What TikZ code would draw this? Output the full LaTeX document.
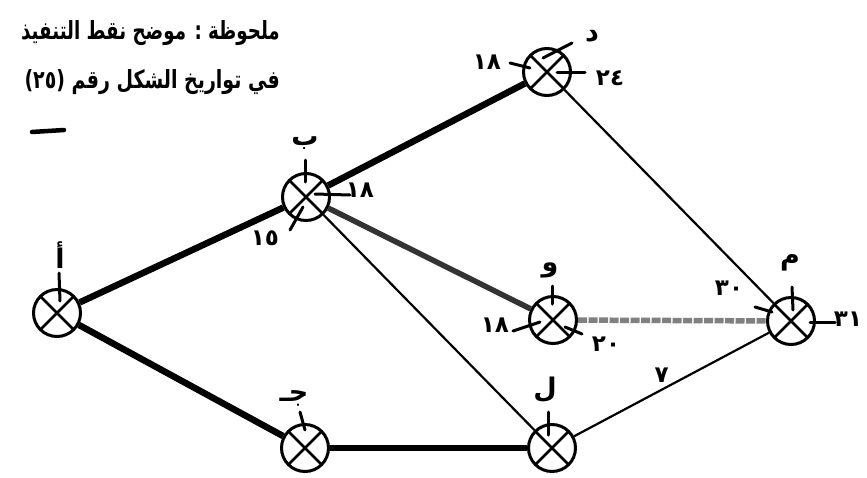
\documentclass[tikz,border=0pt]{standalone}
\usepackage{fontspec}
\newfontfamily\arabicfont[Script=Arabic]{DejaVu Sans}
\TeXXeTstate=1
\begin{document}
\begin{tikzpicture}[x=1pt,y=-1pt,
  event/.style={circle,draw=black,line width=3pt,minimum size=47pt,inner sep=0pt,
    path picture={\draw[line width=2.6pt]
      (path picture bounding box.north west) -- (path picture bounding box.south east)
      (path picture bounding box.north east) -- (path picture bounding box.south west);}},
  heavy/.style={line width=6.5pt},
  graycrit/.style={line width=5.5pt,black!80},
  hatched/.style={line width=5.5pt,black!50,dash pattern=on 9pt off 1.5pt},
  light/.style={line width=2.2pt},
  tick/.style={line width=3pt,line cap=round},
  num/.style={font=\arabicfont\bfseries\fontsize{23}{25}\selectfont,inner sep=0pt},
  letter/.style={font=\arabicfont\bfseries\fontsize{27}{29}\selectfont,inner sep=0pt},
  note/.style={font=\arabicfont\bfseries\fontsize{25}{27}\selectfont,inner sep=0pt,anchor=east}
]
\useasboundingbox (0,0) rectangle (867,477);

% events
\node[event] (a) at (57,313) {};
\node[event] (b) at (306,197) {};
\node[event] (d) at (547,72) {};
\node[event] (w) at (553,320) {};
\node[event] (m) at (791,321) {};
\node[event] (j) at (305,448) {};
\node[event] (l) at (552,448) {};

% activities
\draw[heavy] (a) -- (b);
\draw[heavy] (a) -- (j);
\draw[heavy] (j) -- (l);
\draw[heavy] (b) -- (d);
\draw[graycrit] (b) -- (w);
\draw[hatched] (w) -- (m);
\draw[light] (b) -- (l);
\draw[light] (d) -- (m);
\draw[light] (l) -- node[num,pos=0.45,above=6pt] (e7) {٧} (m);

% ticks
\draw[tick] (a) ++(2,-40) -- ++(1,28);
\draw[tick] (b) ++(-1,-37) -- ++(0,22);
\draw[tick] (b) ++(9,-3) -- ++(35,1);
\draw[tick] (b) ++(-3,10) -- ++(-13,23);
\draw[tick] (d) ++(-4,-14) -- ++(29,-15);
\draw[tick] (d) ++(-37,-9) -- ++(20,5);
\draw[tick] (d) ++(10,0) -- ++(28,0);
\draw[tick] (w) ++(-1,-34) -- ++(0,18);
\draw[tick] (w) ++(-40,11) -- ++(27,-9);
\draw[tick] (w) ++(12,7) -- ++(17,7);
\draw[tick] (m) ++(1,-34) -- ++(1,23);
\draw[tick] (m) ++(-36,-14) -- ++(17,5);
\draw[tick] (m) ++(19,1) -- ++(25,0);
\draw[tick] (j) ++(-5,-36) -- ++(5,18);
\draw[tick] (l) ++(-4,-36) -- ++(0,23);

% event letters
\node[letter] (la) at (60,255) {\beginR أ\endR};
\node[letter] (lb) at (305,143) {\beginR ب\endR};
\node[letter] (ld) at (592,36) {\beginR د\endR};
\node[letter] (lw) at (550,270) {\beginR و\endR};
\node[letter] (lm) at (790,263) {\beginR م\endR};
\node[letter] (lj) at (294,398) {\beginR جـ\endR};
\node[letter] (ll) at (545,390) {\beginR ل\endR};

% times
\node[num] (tb1) at (360,190) {١٨};
\node[num] (tb2) at (265,238) {١٥};
\node[num] (td1) at (487,62) {١٨};
\node[num] (td2) at (610,78) {٢٤};
\node[num] (tw1) at (495,325) {١٨};
\node[num] (tw2) at (606,344) {٢٠};
\node[num] (tm1) at (729,288) {٣٠};
\node[num] (tm2) at (848,319) {٣١};

% note
\node[note] (n1) at (280,33) {\scalebox{0.73}[1]{\beginR ملحوظة : موضح نقط التنفيذ\endR}};
\node[note] (n2) at (280,82) {\scalebox{0.76}[1]{\beginR في تواريخ الشكل رقم \beginL(٢٥)\endL\endR}};
\draw[line width=4.5pt,line cap=round] (32,132) -- (64,130);
\end{tikzpicture}
\end{document}
